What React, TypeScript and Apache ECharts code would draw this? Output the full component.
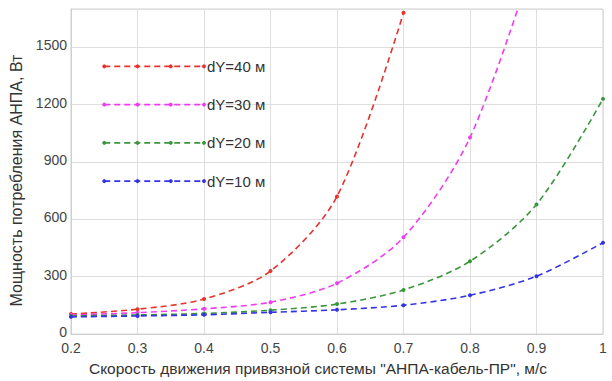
import React, { useEffect, useRef } from "react";
import * as echarts from "echarts";

// Towing speed of the tethered system, m/s
const speeds = [0.2, 0.3, 0.4, 0.5, 0.6, 0.7, 0.8, 0.9, 1.0];

// Power consumption, W, for each depth offset dY
const power40 = [105, 130, 183, 330, 720, 1680];
const power30 = [100, 112, 132, 167, 266, 506, 1028, 2000];
const power20 = [95, 100, 108, 125, 157, 231, 381, 678, 1230];
const power10 = [90, 95, 101, 114, 127, 151, 203, 303, 478];

const seriesNames = ["dY=40 м", "dY=30 м", "dY=20 м", "dY=10 м"];
const seriesColors = ["#e8322c", "#f03cf0", "#3a963a", "#3232e6"];

// In-plot key: short sample lines drawn in data coordinates
const keyX = [0.25, 0.3, 0.35, 0.4];
const keyY = [1400, 1200, 1000, 800];

const xTicks = { min: 0.2, max: 1.0, interval: 0.1 };
const yTicks = { min: 0, max: 1700, interval: 300 };

const FONT = "'Liberation Sans', Arial, sans-serif";

export default function App() {
  const ref = useRef<HTMLDivElement>(null);

  useEffect(() => {
    if (!ref.current) return;
    const chart = echarts.init(ref.current, undefined, { renderer: "svg" });

    const curves = [power40, power30, power20, power10];
    const curveSeries = curves.map((vals, i) => ({
      type: "line",
      name: seriesNames[i],
      data: vals.map((v, j) => [speeds[j], v]),
      smooth: 0.3,
      clip: true,
      symbol: "circle",
      symbolSize: 4,
      itemStyle: { color: seriesColors[i] },
      lineStyle: { color: seriesColors[i], width: 1.6, type: [6, 4] },
      z: 3,
    }));

    const keySeries = seriesNames.map((name, i) => ({
      type: "line",
      name: name + " key",
      data: keyX.map((x) => [x, keyY[i]]),
      symbol: "circle",
      symbolSize: 4,
      itemStyle: { color: seriesColors[i] },
      lineStyle: { color: seriesColors[i], width: 1.6, type: [6, 4] },
      endLabel: {
        show: true,
        formatter: name,
        color: "#333",
        fontFamily: FONT,
        fontSize: 15,
        distance: 3,
      },
      z: 3,
    }));

    chart.setOption({
      animation: false,
      backgroundColor: "#ffffff",
      grid: {
        left: 71,
        right: 9,
        top: 9,
        bottom: 46,
        containLabel: false,
        show: true,
        borderColor: "#cfcfcf",
        borderWidth: 1,
      },
      xAxis: {
        type: "value",
        min: xTicks.min,
        max: xTicks.max,
        interval: xTicks.interval,
        name: 'Скорость движения привязной системы "АНПА-кабель-ПР", м/с',
        nameLocation: "middle",
        nameGap: 22,
        nameTextStyle: { color: "#333", fontFamily: FONT, fontSize: 15.5, padding: [0, 38, 0, 0] },
        axisLine: { show: true, lineStyle: { color: "#cfcfcf" } },
        axisTick: { show: false },
        axisLabel: {
          color: "#444",
          fontFamily: FONT,
          fontSize: 14,
          margin: 7,
          showMinLabel: true,
          showMaxLabel: true,
          formatter: (v: number) => String(+v.toFixed(1)),
        },
        splitLine: { show: true, lineStyle: { color: "#dedede", width: 1 } },
      },
      yAxis: {
        type: "value",
        min: yTicks.min,
        max: yTicks.max,
        interval: yTicks.interval,
        name: "Мощность потребления АНПА, Вт",
        nameLocation: "middle",
        nameGap: 44,
        nameTextStyle: { color: "#333", fontFamily: FONT, fontSize: 16, padding: [0, 18, 0, 0] },
        axisLine: { show: true, lineStyle: { color: "#cfcfcf" } },
        axisTick: { show: false },
        axisLabel: {
          color: "#444",
          fontFamily: FONT,
          fontSize: 14,
          margin: 4,
          verticalAlign: "bottom",
          lineHeight: 4,
          showMinLabel: true,
          showMaxLabel: false,
          hideOverlap: false,
          formatter: (v: number) => String(v),
        },
        splitLine: { show: true, lineStyle: { color: "#dedede", width: 1 } },
      },
      series: [...curveSeries, ...keySeries],
    });

    return () => chart.dispose();
  }, []);

  return <div ref={ref} style={{ width: 612, height: 381, position: "absolute", left: 0, top: 0 }} />;
}
